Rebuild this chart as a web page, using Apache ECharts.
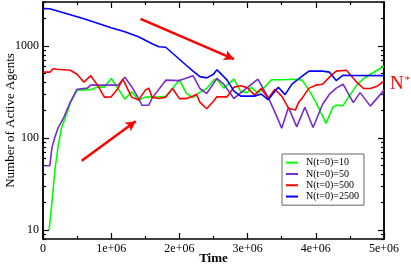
<!DOCTYPE html>
<html><head><meta charset="utf-8">
<script src="https://cdn.jsdelivr.net/npm/echarts@6/dist/echarts.min.js"></script>
<style>html,body{margin:0;padding:0;background:#fff}#c{width:411px;height:266px}</style>
</head><body><div id="c"></div>
<script>
// time in units of 1e6
const tGreen = [0.09,0.11,0.13,0.15,0.18,0.22,0.27,0.35,0.4,0.5,0.7,0.8,0.9,1.0,1.1,1.2,1.3,1.4,1.5,1.7,1.8,1.9,2.0,2.1,2.2,2.3,2.4,2.5,2.55,2.65,2.8,2.9,3.0,3.05,3.15,3.25,3.35,3.5,3.7,3.8,3.9,4.0,4.1,4.15,4.25,4.3,4.4,4.5,4.6,4.7,4.8,4.9,5.0];
const nGreen = [10,10,19.7,28.6,48.4,79.7,128,186,239,331,335,357,357,443,345,264,317,258,278,281,283,348,430,307,274,315,345,425,435,348,435,319,311,357,307,357,430,430,435,425,331,245,173,144,216,227,225,292,375,441,493,545,602];

const tPurple = [0.03,0.1,0.13,0.17,0.22,0.3,0.35,0.4,0.5,0.65,0.7,1.0,1.1,1.2,1.3,1.4,1.45,1.55,1.6,1.8,2.0,2.2,2.3,2.4,2.55,2.65,2.8,2.95,3.15,3.3,3.4,3.5,3.6,3.72,3.84,3.96,4.1,4.2,4.3,4.4,4.55,4.65,4.8,5.0];
const nPurple = [50,50,77.7,99.8,128,164,201,245,339,348,375,375,375,458,361,271,227,227,271,425,420,475,345,304,443,384,269,331,437,278,191,128,216,132,216,130,233,299,348,384,242,311,222,331];

const tRed = [0,0.1,0.15,0.2,0.4,0.5,0.6,0.7,0.8,0.9,1.0,1.1,1.17,1.3,1.4,1.5,1.55,1.6,1.7,1.8,1.9,2.0,2.1,2.2,2.25,2.3,2.4,2.5,2.55,2.7,2.8,2.9,3.0,3.1,3.2,3.3,3.4,3.5,3.6,3.7,3.75,3.8,3.9,4.0,4.1,4.2,4.3,4.45,4.6,4.7,4.8,4.9,5.0];
const nRed = [519,519,566,559,545,493,404,475,375,278,280,345,435,278,258,331,348,278,268,278,345,268,268,285,299,245,208,251,280,280,357,370,352,292,345,268,339,285,211,201,245,271,348,375,384,458,532,545,404,345,345,365,414];

const tBlue = [0,0.1,0.2,0.4,0.6,0.8,1.0,1.2,1.4,1.6,1.7,1.8,1.9,2.0,2.1,2.2,2.3,2.4,2.5,2.55,2.6,2.7,2.8,2.9,3.0,3.1,3.2,3.3,3.45,3.55,3.65,3.8,3.9,4.0,4.1,4.2,4.3,4.4,4.5,5.0];
const nBlue = [2545,2533,2409,2180,1972,1763,1576,1426,1258,1056,980,968,833,717,617,532,464,450,493,552,506,425,323,285,285,285,300,261,356,296,385,469,532,532,532,519,420,481,478,476];

const seriesNames = ['N(t=0)=10','N(t=0)=50','N(t=0)=500','N(t=0)=2500'];
const seriesColors = ['#00ff00','#7a2cc8','#ff0000','#0000ff'];
const xTickLabels = ['0','1e+06','2e+06','3e+06','4e+06','5e+06'];
const yMajor = [10,100,1000];
const yMinor = [8,9,20,30,40,50,60,70,80,90,200,300,400,500,600,700,800,900,2000,3000];
const arrowDown = [[1.43,1963],[2.80,718]];
const arrowUp = [[0.567,56.6],[1.359,152]];

const zip = (t,n)=>t.map((v,i)=>[v,n[i]]);
const datas = [zip(tGreen,nGreen),zip(tPurple,nPurple),zip(tRed,nRed),zip(tBlue,nBlue)];
const FONT = 'Liberation Serif';

const yBase = {type:'log',logBase:10,min:8,max:3000,gridIndex:0,
  axisLine:{show:true,lineStyle:{color:'#000',width:1.5}},splitLine:{show:false}};
function yAx(pos,major,label){
  return Object.assign({},yBase,{position:pos,
    axisTick:{show:true,inside:true,length:major?6:3,customValues:major?yMajor:yMinor,lineStyle:{color:'#000',width:1.2}},
    axisLabel:{show:label,customValues:yMajor,fontFamily:FONT,fontSize:12,color:'#000',margin:4,
      formatter:v=>String(Math.round(v))},
    name:label?'Number of Active Agents':'',nameLocation:'middle',nameGap:26,nameMoveOverlap:false,
    nameTextStyle:{fontFamily:FONT,fontSize:13,color:'#000'}});
}
function xAx(pos,label){
  return {type:'value',min:0,max:5,interval:1,position:pos,
    axisLine:{show:true,onZero:false,lineStyle:{color:'#000',width:1.5}},
    axisTick:{show:true,inside:true,length:6,lineStyle:{color:'#000',width:1.2}},
    minorTick:{show:true,splitNumber:2,length:3,lineStyle:{color:'#000',width:1.2}},
    splitLine:{show:false},
    axisLabel:{show:label,fontFamily:FONT,fontSize:12,color:'#000',margin:4,
      formatter:v=>xTickLabels[Math.round(v)]},
    name:label?'Time':'',nameLocation:'middle',nameGap:13,nameMoveOverlap:false,
    nameTextStyle:{fontFamily:FONT,fontSize:13,fontWeight:'bold',color:'#000'}};
}

const series = datas.map((d,i)=>({name:seriesNames[i],type:'line',data:d,symbol:'none',
  xAxisIndex:0,yAxisIndex:0,
  lineStyle:{color:seriesColors[i],width:1.6},itemStyle:{color:seriesColors[i]},z:3+i}));
series.push({type:'line',data:[],xAxisIndex:0,yAxisIndex:0,silent:true,
  markLine:{silent:true,symbol:['none','arrow'],symbolSize:[8,10],label:{show:false},
    lineStyle:{color:'#ff0000',width:2.5,type:'solid'},
    data:[[{coord:arrowDown[0]},{coord:arrowDown[1]}],[{coord:arrowUp[0]},{coord:arrowUp[1]}]]}});

const chart = echarts.init(document.getElementById('c'),null,{renderer:'canvas'});
chart.setOption({
  animation:false,
  backgroundColor:'#fff',
  grid:{left:43,right:27,top:2,bottom:27,containLabel:false,outerBoundsMode:'none'},
  xAxis:[xAx('bottom',true),xAx('top',false)],
  yAxis:[yAx('left',true,true),yAx('left',false,false),yAx('right',true,false),yAx('right',false,false)],
  legend:{show:true,orient:'vertical',left:282,top:154,data:seriesNames,icon:'rect',itemWidth:12,itemHeight:2,
    itemGap:0,padding:[3,5,3,4],backgroundColor:'#fff',borderColor:'#666',borderWidth:1,
    textStyle:{fontFamily:FONT,fontSize:10,color:'#000',lineHeight:11.3,padding:[0,0,0,3]},selectedMode:false},
  graphic:[{type:'text',left:390,top:75,style:{text:'{n|N}{s|*}',
    rich:{n:{fontFamily:FONT,fontSize:19,fill:'#ff0000',verticalAlign:'bottom'},
          s:{fontFamily:FONT,fontSize:10,fill:'#ff0000',verticalAlign:'top',padding:[0,0,8,1]}}}}],
  series:series
});
</script></body></html>
